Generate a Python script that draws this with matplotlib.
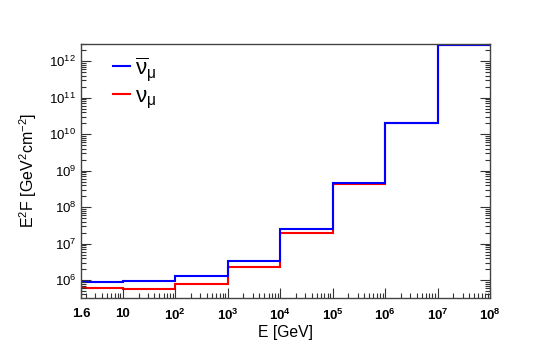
import matplotlib

matplotlib.use("Agg")
import matplotlib.pyplot as plt
from matplotlib.ticker import FixedLocator, LogLocator, NullFormatter
import numpy as np

plt.rcParams["font.family"] = ["Liberation Sans", "DejaVu Sans"]
plt.rcParams["mathtext.fontset"] = "custom"
plt.rcParams["mathtext.rm"] = "Liberation Sans"
plt.rcParams["mathtext.it"] = "Liberation Sans:italic"
plt.rcParams["mathtext.bf"] = "Liberation Sans:bold"

# bin edges in GeV
bin_edges = [1.6, 10, 1e2, 1e3, 1e4, 1e5, 1e6, 1e7, 1e8]
# E^2 F per bin
flux_nubar = [0.88e6, 0.93e6, 1.29e6, 3.4e6, 2.5e7, 4.6e8, 2.0e10, 2.75e12]
flux_nu = [0.62e6, 0.58e6, 0.80e6, 2.28e6, 1.97e7, 4.3e8, 2.0e10, 2.75e12]

x_ticks = [1.6, 10, 1e2, 1e3, 1e4, 1e5, 1e6, 1e7, 1e8]
x_ticklabels = ["1.6", "10", r"$\mathbf{10^{2}}$", r"$\mathbf{10^{3}}$", r"$\mathbf{10^{4}}$",
                r"$\mathbf{10^{5}}$", r"$\mathbf{10^{6}}$", r"$\mathbf{10^{7}}$",
                r"$\mathbf{10^{8}}$"]
y_ticks = [1e6, 1e7, 1e8, 1e9, 1e10, 1e11, 1e12]
y_ticklabels = [r"$10^{%d}$" % k for k in range(6, 13)]

fig = plt.figure(figsize=(5.45, 3.52), dpi=100)
ax = fig.add_axes([0.1486, 0.1534, 0.7505, 0.7216])

ax.stairs(flux_nu, bin_edges, color="#ff0000", lw=1.5, baseline=None,
          label="\u03bd$_{\\mathrm{\u03bc}}$")
ax.stairs(flux_nubar, bin_edges, color="#0000ff", lw=1.5, baseline=None,
          label="$\\overline{\\mathrm{\u03bd}}_{\\mathrm{\u03bc}}$")

ax.set_xscale("log")
ax.set_yscale("log")
ax.set_xlim(1.6, 1e8)
ax.set_ylim(3.2e5, 3.0e12)

ax.xaxis.set_major_locator(FixedLocator(x_ticks))
ax.set_xticklabels(x_ticklabels, fontweight="bold")
ax.xaxis.set_minor_locator(LogLocator(base=10, subs=np.arange(2, 10)))
ax.xaxis.set_minor_formatter(NullFormatter())
ax.yaxis.set_major_locator(FixedLocator(y_ticks))
ax.set_yticklabels(y_ticklabels)
ax.yaxis.set_minor_locator(LogLocator(base=10, subs=np.arange(2, 10)))
ax.yaxis.set_minor_formatter(NullFormatter())

ax.tick_params(which="both", direction="in", top=False, right=True, labelsize=9.5,
               color="#333333", width=0.8)
ax.tick_params(which="major", length=7)
ax.tick_params(which="minor", length=3.5)
ax.tick_params(axis="x", pad=7)
for s in ax.spines.values():
    s.set_color("#444444")
    s.set_linewidth(1.0)

fig.text(286 / 545, 1 - 333 / 352, "E [GeV]", ha="center", va="center", fontsize=11.3)
fig.text(28 / 545, 1 - 170 / 352, r"E$^{2}$F [GeV$^{2}$cm$^{-2}$]", ha="center",
         va="center", rotation=90, fontsize=11.5)

handles, labels = ax.get_legend_handles_labels()
ax.legend(handles[::-1], labels[::-1], loc="upper left", bbox_to_anchor=(0.03, 1.035),
          frameon=False, fontsize=16, handlelength=0.75, handletextpad=0.25,
          labelspacing=0.15)

fig.savefig("out.png", dpi=100)
